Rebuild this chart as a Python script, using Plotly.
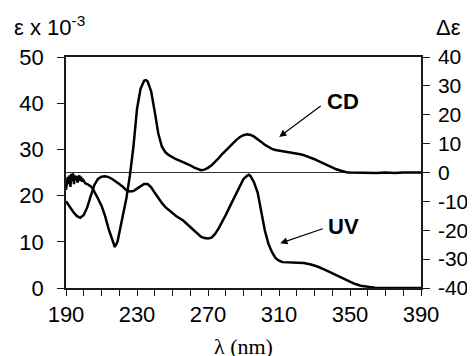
import plotly.graph_objects as go

# UV spectrum: wavelength (nm) and epsilon x 10^-3
uv_wl = [190, 192, 194, 196, 198, 200, 202, 204, 206, 208, 210, 212, 214, 216, 218, 220,
         222, 224, 226, 228, 230, 232, 234, 236, 238, 240, 242, 244, 246, 248, 250, 252,
         254, 256, 258, 260, 262, 264, 266, 268, 270, 272, 274, 276, 278, 280, 282, 284,
         286, 288, 290, 292, 293, 294, 296, 298, 300, 302, 304, 306, 308, 310, 312, 316,
         320, 324, 328, 332, 336, 340, 344, 348, 352, 356, 360, 364, 370, 380, 390]
uv_eps = [18.8, 17.5, 16.5, 15.6, 15.2, 15.8, 17.5, 20.0, 22.3, 23.6, 24.1, 24.2, 24.0, 23.6, 23.1, 22.5,
          21.9, 21.2, 20.9, 21.0, 21.5, 22.1, 22.5, 22.5, 21.8, 20.6, 19.4, 18.4, 17.5, 16.8, 16.2, 15.6,
          15.1, 14.6, 13.9, 13.2, 12.5, 11.8, 11.1, 10.8, 10.7, 10.9, 11.7, 12.9, 14.2, 15.8, 17.4, 19.0,
          20.6, 22.2, 23.6, 24.3, 24.5, 24.2, 22.8, 20.6, 16.5, 12.5, 9.6, 7.8, 6.5, 5.9, 5.6, 5.5,
          5.5, 5.4, 5.1, 4.6, 3.9, 3.2, 2.4, 1.7, 1.0, 0.5, 0.2, 0.05, 0.0, 0.0, 0.0]

# CD spectrum: wavelength (nm) and delta epsilon
cd_wl = [190, 190.5, 191, 191.5, 192, 192.5, 193, 193.5, 194, 194.5, 195, 195.5, 196, 196.5,
         197, 197.5, 198, 198.5, 199, 199.5, 200, 201, 202, 203, 204, 205, 206, 207, 208, 210,
         212, 214, 216, 217.5, 219, 220, 222, 224, 226, 228, 230, 232, 234, 235, 236, 238, 240,
         242, 244, 246, 248, 250, 252, 254, 256, 258, 260, 262, 264, 266, 268, 270, 272, 274,
         276, 278, 280, 282, 284, 286, 288, 290, 292, 294, 296, 298, 300, 302, 304, 306, 308,
         310, 312, 314, 316, 318, 320, 322, 324, 326, 328, 330, 332, 334, 336, 338, 340, 342,
         344, 346, 348, 350, 355, 360, 365, 370, 375, 380, 385, 390]
cd_de = [-6.0, -3.0, -1.5, -4.0, -1.0, -5.0, -0.5, -3.0, -0.3, -4.0, -1.0, -2.5, -1.2, -3.5,
         -2.0, -1.0, -2.8, -1.5, -3.2, -2.2, -3.0, -3.8, -4.0, -4.3, -4.8, -5.5, -6.5, -7.8, -9.0, -11.5,
         -15.0, -19.5, -23.5, -25.8, -24.0, -21.0, -15.5, -9.0, -1.0, 9.0, 22.0, 29.0, 31.8, 32.0, 31.5, 28.0, 21.0,
         13.5, 9.0, 7.0, 6.0, 5.2, 4.6, 4.1, 3.6, 3.1, 2.5, 1.8, 1.2, 0.8, 1.0, 1.6, 2.5, 3.6,
         5.0, 6.4, 7.7, 9.0, 10.2, 11.3, 12.3, 12.9, 13.2, 13.0, 12.4, 11.6, 10.6, 9.6, 8.8, 8.2, 7.8,
         7.6, 7.5, 7.3, 7.0, 6.8, 6.6, 6.3, 6.0, 5.6, 5.1, 4.6, 4.0, 3.4, 2.8, 2.2, 1.7, 1.2,
         0.8, 0.4, 0.1, 0.0, -0.1, 0.0, -0.2, 0.0, -0.2, 0.0, 0.1, 0.0]

x_ticks = list(range(190, 391, 10))
x_labels = [str(v) if (v - 190) % 40 == 0 else "" for v in x_ticks]
y_left_ticks = [0, 10, 20, 30, 40, 50]
y_right_ticks = [-40, -30, -20, -10, 0, 10, 20, 30, 40]
y_right_labels = [str(v) for v in y_right_ticks]  # plain hyphen-minus as in the original

AX = "#1a1a1a"
SANS = "Liberation Sans, Arial"
tick_font = dict(family=SANS, size=22, color="black")

fig = go.Figure()
fig.add_trace(go.Scatter(x=uv_wl, y=uv_eps, mode="lines", yaxis="y",
                         line=dict(color="black", width=2.5), showlegend=False))
fig.add_trace(go.Scatter(x=cd_wl, y=cd_de, mode="lines", yaxis="y2",
                         line=dict(color="black", width=2.5), showlegend=False))

# the page body adds an 8px offset, so the figure is 8px smaller and margins shifted
fig.update_layout(
    width=467, height=348,
    margin=dict(l=57.5, r=54, t=49, b=68, autoexpand=False),
    paper_bgcolor="white", plot_bgcolor="white",
    xaxis=dict(range=[190, 390], tickmode="array", tickvals=x_ticks, ticktext=x_labels,
               ticks="outside", ticklen=6, tickwidth=1.3, tickcolor=AX,
               showline=True, linecolor=AX, linewidth=1.5, mirror=True, automargin=False,
               showgrid=False, zeroline=False, tickfont=tick_font, ticklabelstandoff=0),
    yaxis=dict(range=[0, 50], tickmode="array", tickvals=y_left_ticks,
               ticks="outside", ticklen=7, tickwidth=1.3, tickcolor=AX, automargin=False,
               showline=True, linecolor=AX, linewidth=1.5,
               showgrid=False, zeroline=False, tickfont=tick_font, ticklabelstandoff=9),
    yaxis2=dict(range=[-40, 40], tickmode="array", tickvals=y_right_ticks, ticktext=y_right_labels,
                overlaying="y", side="right", automargin=False,
                ticks="outside", ticklen=7, tickwidth=1.3, tickcolor=AX,
                showline=True, linecolor=AX, linewidth=1.5,
                showgrid=False, zeroline=False,
                tickfont=dict(family=SANS, size=21, color="black"), ticklabelstandoff=4),
    shapes=[dict(type="line", xref="paper", x0=0, x1=1, yref="y2", y0=0, y1=0,
                 line=dict(color="#333", width=1.2), layer="below")],
)

annos = [
    dict(text="ε x 10<sup>-3</sup>", xref="paper", yref="paper", x=-0.153, y=1.063,
         xanchor="left", yanchor="bottom", showarrow=False,
         font=dict(family=SANS, size=22, color="black")),
    dict(text="Δε", xref="paper", yref="paper", x=1.036, y=1.067,
         xanchor="left", yanchor="bottom", showarrow=False,
         font=dict(family=SANS, size=22, color="black")),
    dict(text="λ (nm)", xref="paper", yref="paper", x=0.5, y=-0.255,
         xanchor="center", yanchor="middle", showarrow=False,
         font=dict(family="Liberation Serif, Times New Roman", size=22, color="black")),
    dict(text="<b>CD</b>", xref="x", yref="y", x=346, y=40.3, showarrow=False,
         xanchor="center", yanchor="middle",
         font=dict(family=SANS, size=22, color="black")),
    dict(text="<b>UV</b>", xref="x", yref="y", x=346.5, y=13.4, showarrow=False,
         xanchor="center", yanchor="middle",
         font=dict(family=SANS, size=22, color="black")),
    dict(text="", xref="x", yref="y", x=310.1, y=32.7, ax=43, ay=-32,
         showarrow=True, arrowhead=2, arrowsize=1.2, arrowwidth=1.2, arrowcolor="black"),
    dict(text="", xref="x", yref="y", x=310.7, y=9.7, ax=44, ay=-15,
         showarrow=True, arrowhead=2, arrowsize=1.2, arrowwidth=1.2, arrowcolor="black"),
]
fig.update_layout(annotations=annos)

fig.write_html("out.html")
